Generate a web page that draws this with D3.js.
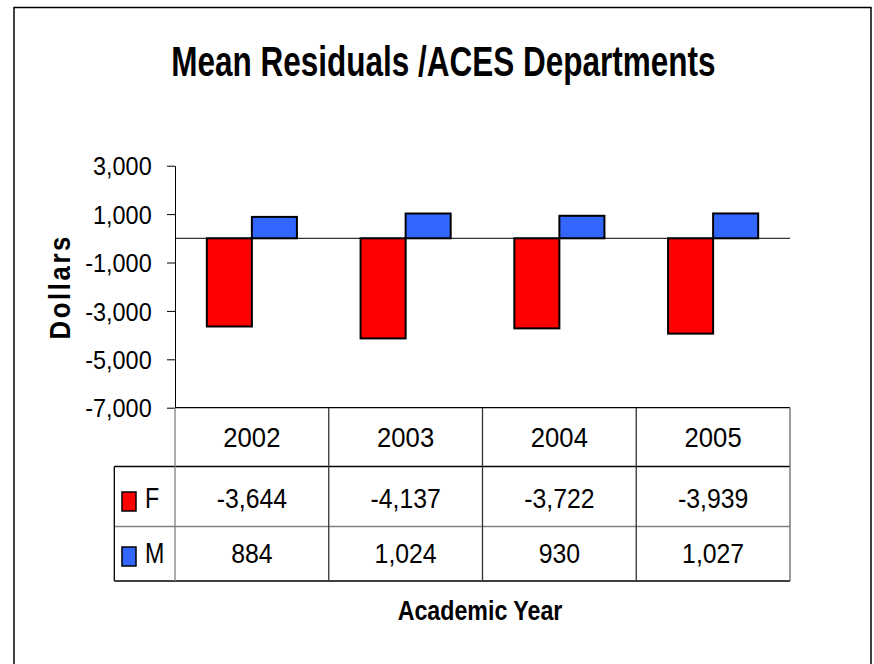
<!DOCTYPE html>
<html>
<head>
<meta charset="utf-8">
<script src="https://cdn.jsdelivr.net/npm/d3@7"></script>
<style>
  body { margin: 0; background: #fff; }
  svg text { font-family: "Liberation Sans", Arial, sans-serif; fill: #000; }
</style>
</head>
<body>
<script>
// data
const years = ['2002', '2003', '2004', '2005'];
const seriesNames = ['F', 'M'];
const fValues = [-3644, -4137, -3722, -3939];
const mValues = [884, 1024, 930, 1027];
const seriesColors = ['#FF0000', '#3366FF'];
const yTicks = [-7000, -5000, -3000, -1000, 1000, 3000];
const titleText = 'Mean Residuals /ACES Departments';
const yLabel = 'Dollars';
const xLabel = 'Academic Year';

const seriesValues = [fValues, mValues];

const width = 874, height = 664;
const plot = { left: 175, right: 790, top: 165.7, bottom: 407.7 };
// table rows: [top, bottom, text centre]
const rows = {
    head: [407.7, 466.5, 437],
    F: [466.5, 526.5, 498],
    M: [526.5, 581, 553]
};
const legendLeft = 114.3;

const fmt = d3.formatLocale({ decimal: '.', thousands: ',', grouping: [3], currency: ['$', ''], minus: '-' }).format(',');

const svg = d3.select('body').append('svg')
    .attr('width', width)
    .attr('height', height);

// outer frame
svg.append('rect')
    .attr('x', 14).attr('y', 7.5)
    .attr('width', 857).attr('height', 700)
    .attr('fill', '#fff')
    .attr('stroke', '#000')
    .attr('stroke-width', 1.5);

// squished text helper
const label = (x, y, txt, size, sx, opts = {}) => svg.append('text')
    .attr('transform', `translate(${x},${y}) scale(${sx},1)`)
    .attr('text-anchor', opts.anchor || 'middle')
    .attr('dy', opts.dy || 0)
    .style('font-size', size + 'px')
    .style('font-weight', opts.bold ? 'bold' : 'normal')
    .text(txt);

label(443.3, 75.7, titleText, 42, 0.75, { bold: true });

const x0 = d3.scaleBand().domain(years).range([plot.left, plot.right]).paddingInner(0.414).paddingOuter(0.207);
const x1 = d3.scaleBand().domain(seriesNames).range([0, x0.bandwidth()]);
const xCol = d3.scaleBand().domain(years).range([plot.left, plot.right]);
const y = d3.scaleLinear().domain([-7000, 3000]).range([plot.bottom, plot.top]);

// y axis
const yAxisG = svg.append('g')
    .attr('transform', `translate(${plot.left},0)`)
    .call(d3.axisLeft(y).tickValues(yTicks).tickSize(8).tickSizeOuter(0).tickPadding(15).tickFormat(fmt));
yAxisG.select('.domain').attr('stroke', '#000');
yAxisG.selectAll('.tick line').attr('stroke', '#000');
yAxisG.selectAll('.tick text')
    .attr('x', null)
    .attr('transform', 'translate(-23.3,0) scale(0.92,1)')
    .attr('dy', '0.36em')
    .style('font-size', '25.5px')
    .style('font-family', '"Liberation Sans", Arial, sans-serif')
    .attr('fill', '#000');

svg.append('text')
    .attr('transform', `translate(70,${(plot.top + plot.bottom) / 2}) rotate(-90) scale(0.86,1)`)
    .attr('text-anchor', 'middle')
    .style('font-size', '30px')
    .style('font-weight', 'bold')
    .style('letter-spacing', '3px')
    .text(yLabel);

// bars
const groups = svg.append('g').selectAll('g')
    .data(years)
    .join('g')
    .attr('transform', d => `translate(${x0(d)},0)`);

groups.selectAll('rect')
    .data((d, i) => seriesNames.map((s, j) => ({ s, j, v: seriesValues[j][i] })))
    .join('rect')
    .attr('x', d => x1(d.s))
    .attr('width', x1.bandwidth())
    .attr('y', d => y(Math.max(0, d.v)))
    .attr('height', d => Math.abs(y(d.v) - y(0)))
    .attr('fill', d => seriesColors[d.j])
    .attr('stroke', '#000')
    .attr('stroke-width', 2);

// zero line
svg.append('line')
    .attr('x1', plot.left).attr('x2', plot.right)
    .attr('y1', y(0)).attr('y2', y(0))
    .attr('stroke', '#000').attr('stroke-width', 1);

// data table
const tableG = svg.append('g');
const hline = (x1v, x2v, yv, col) => tableG.append('line')
    .attr('x1', x1v).attr('x2', x2v).attr('y1', yv).attr('y2', yv)
    .attr('stroke', col).attr('stroke-width', 1.3);
const vline = (xv, y1v, y2v, col) => tableG.append('line')
    .attr('x1', xv).attr('x2', xv).attr('y1', y1v).attr('y2', y2v)
    .attr('stroke', col).attr('stroke-width', 1.3);

hline(plot.left, plot.right, rows.head[0], '#000');
hline(legendLeft, plot.right, rows.F[0], '#000');
hline(legendLeft, plot.right, rows.M[0], '#808080');
hline(legendLeft, plot.right, rows.M[1], '#000');
vline(legendLeft, rows.F[0], rows.M[1], '#000');
vline(plot.left, rows.head[0], rows.M[1], '#808080');
years.forEach((yr, i) => {
    vline(xCol(yr) + xCol.bandwidth(), rows.head[0], rows.M[1], i === years.length - 1 ? '#666' : '#333');
});

years.forEach((yr, i) => {
    const cx = xCol(yr) + xCol.bandwidth() / 2;
    label(cx, rows.head[2], yr, 28.5, 0.9, { dy: '0.36em' });
    label(cx, rows.F[2], fmt(fValues[i]), 28.5, 0.87, { dy: '0.36em' });
    label(cx, rows.M[2], fmt(mValues[i]), 28.5, 0.87, { dy: '0.36em' });
});

// legend keys in table
seriesNames.forEach((s, j) => {
    const r = rows[s];
    tableG.append('rect')
        .attr('x', 122).attr('y', r[2] - 6)
        .attr('width', 14).attr('height', 19)
        .attr('fill', seriesColors[j])
        .attr('stroke', '#000')
        .attr('stroke-width', 1.5);
    label(145, r[2], s, 29, 0.8, { anchor: 'start', dy: '0.36em' });
});

label(480, 620, xLabel, 27, 0.86, { bold: true });
</script>
</body>
</html>
